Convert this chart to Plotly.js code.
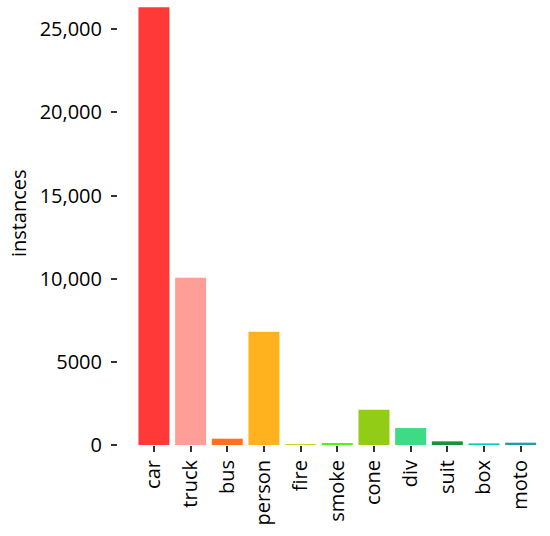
<!DOCTYPE html>
<html>
<head>
<meta charset="utf-8">
<script src="https://cdn.plot.ly/plotly-3.0.1.min.js"></script>
<style>html,body{margin:0;padding:0;background:#fff;}#chart{width:550px;height:536px;}</style>
</head>
<body>
<div id="chart"></div>
<script>
const categories = ["car","truck","bus","person","fire","smoke","cone","div","suit","box","moto"];
const instances = [26320, 10060, 380, 6815, 60, 120, 2120, 1020, 220, 100, 140];
const barColors = ["#FF3838","#FF9D97","#FF701F","#FFB21D","#CFD231","#48F90A","#92CC17","#3DDB86","#1A9334","#00D4BB","#2C99A8"];
const yTickVals = [0, 5000, 10000, 15000, 20000, 25000];
const yTickText = ["0", "5000", "10,000", "15,000", "20,000", "25,000"];

const font = {family: "Open Sans, sans-serif", size: 20, color: "#000"};

Plotly.newPlot("chart", [{
  type: "bar",
  x: categories,
  y: instances,
  marker: {color: barColors}
}], {
  width: 550, height: 536,
  margin: {l: 118, r: 11, t: 5, b: 91},
  paper_bgcolor: "#fff", plot_bgcolor: "#fff",
  bargap: 0.155,
  showlegend: false,
  font: font,
  xaxis: {
    type: "category",
    range: [-0.98, 10.5],
    showline: false, showgrid: false, zeroline: false,
    ticks: "outside", ticklen: 6, tickwidth: 2, tickcolor: "#333",
    tickangle: -90, tickfont: font
  },
  yaxis: {
    range: [0, 26461],
    showline: false, showgrid: false, zeroline: false,
    ticks: "outside", ticklen: 6, tickwidth: 2, tickcolor: "#333",
    ticklabelstandoff: 5,
    tickvals: yTickVals, ticktext: yTickText, tickfont: font
  },
  annotations: [{
    text: "instances", textangle: -90,
    xref: "paper", yref: "paper", x: 0, y: 0.527,
    xshift: -100, xanchor: "center", yanchor: "middle",
    showarrow: false, font: font
  }]
}, {staticPlot: true});
</script>
</body>
</html>
